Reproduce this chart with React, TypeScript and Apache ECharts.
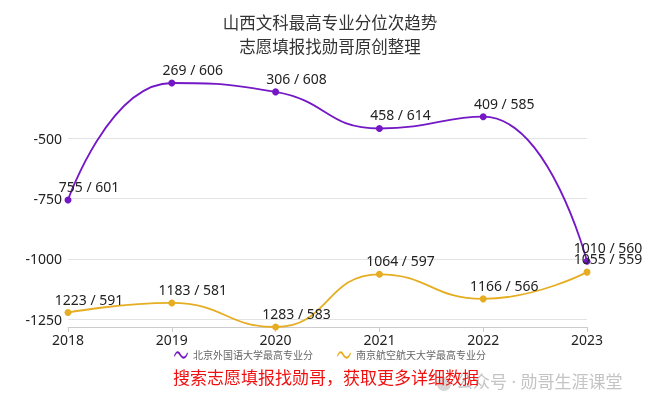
import React, { useEffect, useRef } from "react";
import * as echarts from "echarts";

const years = ["2018", "2019", "2020", "2021", "2022", "2023"];
const bfsuName = "北京外国语大学最高专业分";
const bfsuRank = [755, 269, 306, 458, 409, 1010];
const bfsuScore = [601, 606, 608, 614, 585, 560];
const nuaaName = "南京航空航天大学最高专业分";
const nuaaRank = [1223, 1183, 1283, 1064, 1166, 1055];
const nuaaScore = [591, 581, 583, 597, 566, 559];
const yTicks = [-1250, -1000, -750, -500];

const titleLines = ["山西文科最高专业分位次趋势", "志愿填报找勋哥原创整理"];
const footerText = "搜索志愿填报找勋哥，获取更多详细数据";
const watermark = "公众号 · 勋哥生涯课堂";

const PURPLE = "#7418c6";
const GOLD = "#e6ad22";
const FONT = "'Noto Sans', 'Noto Sans CJK SC', sans-serif";

const wave =
  "path://M0,7 C2,1 5,0 7.5,4.5 C10,9 13,9 15,3 L16,4 C14,11 10,12 6.5,6.5 C4,2.5 2.5,3.5 1,8 Z";

export default function App() {
  const ref = useRef<HTMLDivElement>(null);
  useEffect(() => {
    if (!ref.current) return;
    const chart = echarts.init(ref.current, undefined, { renderer: "svg" });
    const mk = (name: string, ranks: number[], scores: number[], color: string) => ({
      name,
      type: "line",
      smooth: true,
      data: ranks.map((r) => -r),
      symbol: "circle",
      symbolSize: 7,
      lineStyle: { color, width: 1.8 },
      itemStyle: { color },
      label: {
        show: true,
        position: "top",
        distance: 3,
        offset: [21, 0],
        color: "#222",
        fontSize: 14,
        fontFamily: FONT,
        formatter: (p: any) => `${ranks[p.dataIndex]} / ${scores[p.dataIndex]}`,
      },
    });
    chart.setOption({
      animation: false,
      textStyle: { fontFamily: FONT },
      title: {
        text: titleLines.join("\n"),
        left: "center",
        top: 5,
        textStyle: { fontSize: 16.5, fontWeight: "normal", color: "#333", lineHeight: 24, fontFamily: FONT },
      },
      legend: {
        bottom: 46,
        left: "center",
        itemWidth: 14,
        itemHeight: 9,
        itemGap: 24,
        icon: wave,
        textStyle: { fontSize: 10, color: "#666", fontFamily: FONT },
        data: [bfsuName, nuaaName],
      },
      grid: { left: 68, right: 73, top: 83, bottom: 84, containLabel: false },
      xAxis: {
        type: "category",
        data: years,
        boundaryGap: false,
        axisLine: { lineStyle: { color: "#ccc" } },
        axisTick: { show: true, alignWithLabel: true, lineStyle: { color: "#ccc" } },
        axisLabel: { color: "#222", fontSize: 14, margin: 5, fontFamily: FONT },
      },
      yAxis: {
        type: "value",
        min: -1283,
        max: -269,
        axisLine: { show: false },
        axisTick: { show: false, customValues: yTicks },
        axisLabel: {
          color: "#222",
          fontSize: 14,
          margin: 6,
          customValues: yTicks,
          fontFamily: FONT,
          formatter: (v: number) => String(v),
        },
        splitLine: { show: true, lineStyle: { color: "#e3e3e3" } },
      },
      series: [mk(bfsuName, bfsuRank, bfsuScore, PURPLE), mk(nuaaName, nuaaRank, nuaaScore, GOLD)],
      graphic: [
        {
          type: "circle",
          shape: { cx: 444, cy: 384, r: 7 },
          style: { fill: "#d6d6d6" },
        },
        {
          type: "text",
          left: 456,
          top: 373,
          style: { text: watermark, fontSize: 17, fill: "#c4c4c4", fontFamily: FONT },
        },
        {
          type: "text",
          left: 173,
          top: 369,
          style: { text: footerText, fontSize: 17, fill: "#f01010", fontFamily: FONT },
        },
      ],
    });
    return () => chart.dispose();
  }, []);
  return (
    <div
      ref={ref}
      style={{ position: "fixed", left: 0, top: 0, width: 660, height: 411 }}
    />
  );
}
